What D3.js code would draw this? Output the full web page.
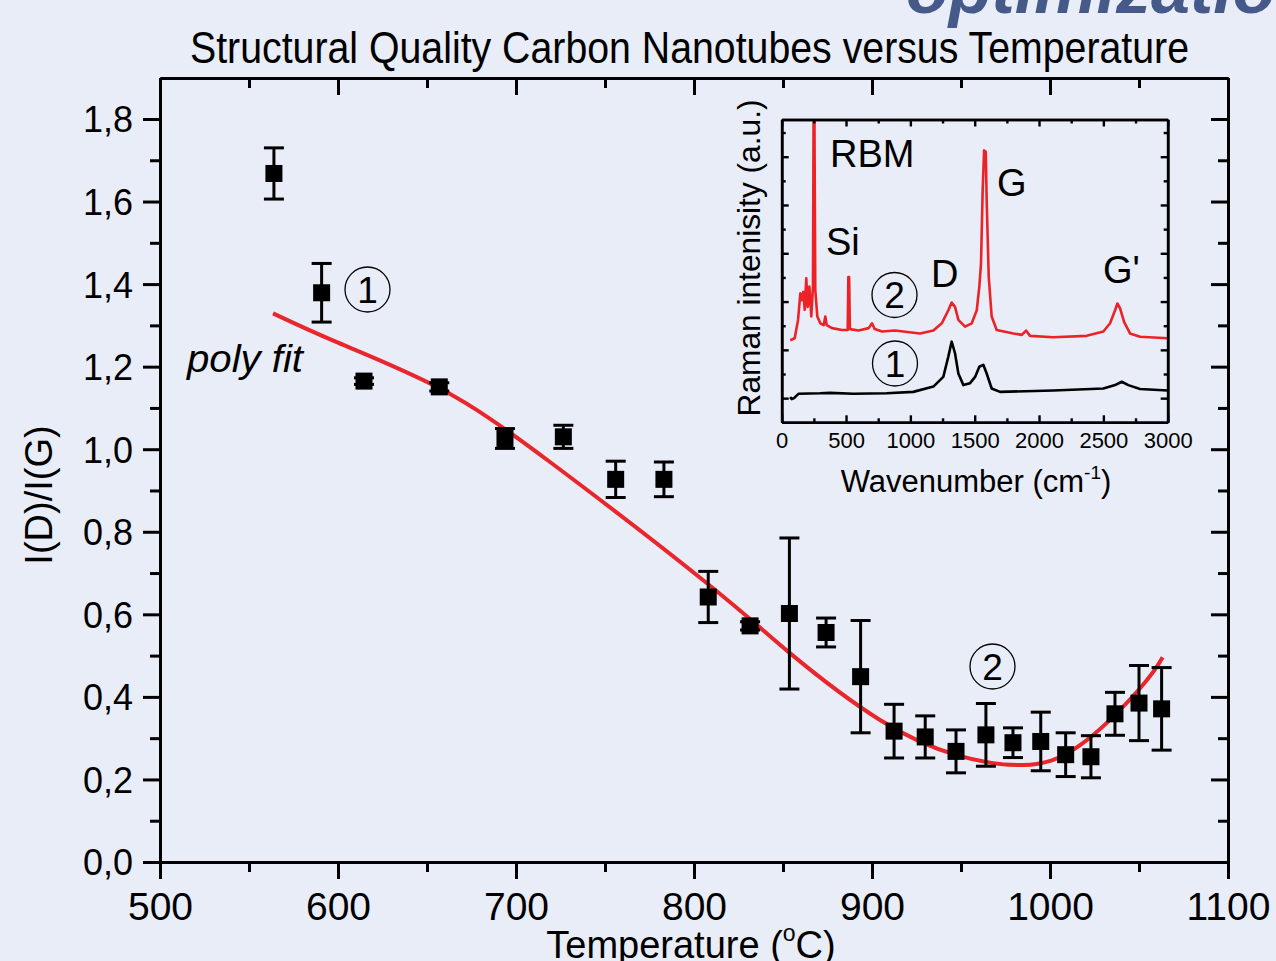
<!DOCTYPE html>
<html>
<head>
<meta charset="utf-8">
<script src="https://cdn.jsdelivr.net/npm/d3@7"></script>
<style>
    html, body { margin: 0; padding: 0; background: #e8edf7; overflow: hidden; }
    svg { display: block; font-family: "Liberation Sans", Arial, sans-serif; }
</style>
</head>
<body>
<div id="chart"></div>
<script>
// main plot: I(D)/I(G) versus growth temperature
const temperature = [564.0, 590.8, 614.6, 656.9, 693.8, 726.6, 756.0, 783.1, 808.0, 831.5, 853.6, 874.2,
                     893.6, 912.4, 929.9, 947.2, 964.0, 979.2, 994.8, 1008.8, 1023.0, 1036.5, 1050.0, 1062.7];
const ratio = [1.668, 1.379, 1.165, 1.151, 1.026, 1.030, 0.927, 0.927, 0.642, 0.572, 0.602, 0.556,
               0.449, 0.317, 0.303, 0.268, 0.308, 0.289, 0.292, 0.260, 0.255, 0.359, 0.385, 0.371];
const ratioErr = [0.062, 0.071, 0.008, 0.010, 0.024, 0.028, 0.044, 0.042, 0.062, 0.010, 0.183, 0.035,
                  0.136, 0.065, 0.051, 0.052, 0.076, 0.036, 0.071, 0.053, 0.051, 0.052, 0.091, 0.100];

// polynomial fit
const fitTemperature = [563.5, 600, 657.3, 719.1, 807.1, 853.9, 904.5, 947.6, 984.8, 1016.9, 1050.6, 1063.3];
const fitRatio = [1.329, 1.258, 1.147, 0.969, 0.676, 0.506, 0.344, 0.259, 0.235, 0.283, 0.421, 0.496];

const xTicks = [500, 600, 700, 800, 900, 1000, 1100];
const xMinorTicks = [550, 650, 750, 850, 950, 1050];
const yTicks = [0, 0.2, 0.4, 0.6, 0.8, 1.0, 1.2, 1.4, 1.6, 1.8];
const yMinorTicks = [0.1, 0.3, 0.5, 0.7, 0.9, 1.1, 1.3, 1.5, 1.7];

// inset: Raman spectra (arbitrary units)
const ramanWave2 = [67, 101, 127, 145, 158, 168, 179, 191, 202, 215, 230, 243, 248, 254, 261, 277, 300, 326,
                    339, 350, 391, 469, 513, 518, 524, 530, 598, 676, 702, 723, 780, 880, 1075, 1179,
                    1244, 1295, 1321, 1347, 1373, 1425, 1477, 1516, 1536, 1549, 1562, 1573, 1586, 1593, 1609,
                    1632, 1671, 1801, 1866, 1899, 1930, 2111, 2370, 2500, 2552, 2591, 2609, 2630, 2661, 2707,
                    2785, 3000];
const ramanIntensity2 = [1.70, 1.74, 2.12, 2.67, 2.53, 2.70, 2.33, 2.98, 2.39, 2.81, 2.19, 2.81, 6.50, 6.50,
                         2.74, 2.19, 2.05, 2.01, 2.19, 2.01, 1.95, 1.91, 1.91, 3.01, 3.01, 1.93, 1.90, 1.95,
                         2.05, 1.93, 1.88, 1.90, 1.84, 1.90, 2.05, 2.32, 2.48, 2.39, 2.12, 1.98, 2.05,
                         2.32, 2.81, 3.29, 4.81, 5.63, 5.60, 4.61, 3.01, 2.19, 1.91, 1.84, 1.81, 1.90, 1.79,
                         1.76, 1.79, 1.88, 2.05, 2.32, 2.46, 2.36, 2.08, 1.84, 1.77, 1.74];
const ramanWave1 = [65, 78, 96, 130, 298, 376, 557, 816, 1023, 1179, 1256, 1295, 1321, 1347, 1373, 1412,
                    1464, 1503, 1536, 1567, 1593, 1632, 1697, 2111, 2500, 2591, 2643, 2694, 2785, 3000];
const ramanIntensity1 = [0.52, 0.48, 0.50, 0.59, 0.60, 0.61, 0.59, 0.60, 0.63, 0.74, 0.94, 1.36, 1.67, 1.43,
                         1.01, 0.77, 0.81, 0.94, 1.15, 1.19, 1.01, 0.70, 0.63, 0.66, 0.70, 0.77, 0.84, 0.77,
                         0.69, 0.66];
const insetXTicks = [0, 500, 1000, 1500, 2000, 2500, 3000];
const insetXMinorTicks = [250, 750, 1250, 1750, 2250, 2750];
const insetYTicks = [0.5, 1.5, 2.5, 3.5, 4.5, 5.5];
const insetYMinorTicks = [1, 2, 3, 4, 5, 6];

(function () {
    const [width, height] = [1276, 961];
    const svg = d3.select('#chart')
                  .append('svg')
                  .attr('width', width)
                  .attr('height', height);

    svg.append('rect')
       .attr('width', width)
       .attr('height', height)
       .attr('fill', '#e8edf7');

    // slide heading peeking in at the top
    svg.append('text')
       .attr('x', 906)
       .attr('y', 13)
       .attr('font-size', 70)
       .attr('font-weight', 'bold')
       .attr('font-style', 'italic')
       .attr('fill', '#465a8a')
       .text('optimization');

    svg.append('text')
       .attr('x', 190)
       .attr('y', 63)
       .attr('font-size', 44)
       .attr('textLength', 999)
       .attr('lengthAdjust', 'spacingAndGlyphs')
       .text('Structural Quality Carbon Nanotubes versus Temperature');

    const x = d3.scaleLinear().domain([500, 1100]).range([160, 1228]);
    const y = d3.scaleLinear().domain([0, 1.9]).range([862, 77.7]);
    const comma = d3.formatLocale({decimal: ',', thousands: '.', grouping: [3], currency: ['', '']}).format('.1f');

    function addAxis(axis, transform, values, size, fmt, fontSize) {
        let g = svg.append('g')
                   .attr('transform', transform)
                   .call(axis.tickValues(values).tickSize(size).tickSizeOuter(0).tickFormat(fmt)
                             .tickPadding(8));
        g.select('.domain').attr('stroke-width', 3).attr('stroke', '#000');
        g.selectAll('.tick line').attr('stroke-width', 3).attr('stroke', '#000');
        g.selectAll('.tick text')
         .attr('font-size', fontSize || 10)
         .attr('font-family', '"Liberation Sans", Arial, sans-serif')
         .attr('fill', '#000');
        return g;
    }

    // frame with ticks: outward on bottom/left, inward on top/right
    addAxis(d3.axisBottom(x), 'translate(0,862)', xTicks, 17, d => d, 39)
        .selectAll('.tick text').attr('dy', null).attr('y', 58);
    addAxis(d3.axisBottom(x), 'translate(0,862)', xMinorTicks, 10, '');
    addAxis(d3.axisTop(x), 'translate(0,78)', xTicks, -17, '');
    addAxis(d3.axisTop(x), 'translate(0,78)', xMinorTicks, -10, '');
    addAxis(d3.axisLeft(y), 'translate(160,0)', yTicks, 17, comma, 36)
        .selectAll('.tick text').attr('x', -27).attr('dy', '0.36em');
    addAxis(d3.axisLeft(y), 'translate(160,0)', yMinorTicks, 10, '');
    addAxis(d3.axisRight(y), 'translate(1228,0)', yTicks, -17, '');
    addAxis(d3.axisRight(y), 'translate(1228,0)', yMinorTicks, -10, '');

    // axis titles
    svg.append('text')
       .attr('transform', 'translate(52,495) rotate(-90)')
       .attr('text-anchor', 'middle')
       .attr('font-size', 38)
       .text('I(D)/I(G)');

    let xt = svg.append('text')
                .attr('x', 691)
                .attr('y', 958)
                .attr('text-anchor', 'middle')
                .attr('font-size', 38);
    xt.append('tspan').text('Temperature (');
    xt.append('tspan').attr('font-size', 23).attr('dy', -17).text('o');
    xt.append('tspan').attr('dy', 17).text('C)');

    // fit curve
    const points = temperature.map((t, i) => ({t: t, v: ratio[i], e: ratioErr[i]}));
    const fit = fitTemperature.map((t, i) => ({t: t, v: fitRatio[i]}));

    svg.append('path')
       .datum(fit)
       .attr('fill', 'none')
       .attr('stroke', '#e8262b')
       .attr('stroke-width', 4)
       .attr('d', d3.line().x(d => x(d.t)).y(d => y(d.v)).curve(d3.curveNatural));

    // error bars and square markers
    let group = svg.selectAll('g.point')
                   .data(points)
                   .enter()
                   .append('g')
                   .attr('class', 'point');
    group.append('line')
         .attr('x1', d => x(d.t)).attr('x2', d => x(d.t))
         .attr('y1', d => y(d.v + d.e)).attr('y2', d => y(d.v - d.e))
         .attr('stroke', '#000').attr('stroke-width', 3);
    for (let sign of [1, -1]) {
        group.append('line')
             .attr('x1', d => x(d.t) - 10).attr('x2', d => x(d.t) + 10)
             .attr('y1', d => y(d.v + sign * d.e)).attr('y2', d => y(d.v + sign * d.e))
             .attr('stroke', '#000').attr('stroke-width', 3);
    }
    group.append('rect')
         .attr('x', d => x(d.t) - 8.5)
         .attr('y', d => y(d.v) - 8.5)
         .attr('width', 17)
         .attr('height', 17)
         .attr('fill', '#000');

    svg.append('text')
       .attr('x', 187)
       .attr('y', 372)
       .attr('font-size', 39)
       .attr('font-style', 'italic')
       .attr('textLength', 116)
       .attr('lengthAdjust', 'spacingAndGlyphs')
       .text('poly fit');

    function circled(cx, cy, label) {
        svg.append('circle')
           .attr('cx', cx).attr('cy', cy).attr('r', 22.5)
           .attr('fill', 'none').attr('stroke', '#000').attr('stroke-width', 1.3);
        svg.append('text')
           .attr('x', cx).attr('y', cy + 13)
           .attr('text-anchor', 'middle')
           .attr('font-size', 37)
           .text(label);
    }
    circled(367.5, 289.5, '1');
    circled(992.5, 666.5, '2');

    // inset
    const ix = d3.scaleLinear().domain([0, 3000]).range([781.7, 1167.7]);
    const iy = d3.scaleLinear().domain([0, 6.27]).range([422.3, 119.5]);

    svg.append('clipPath')
       .attr('id', 'insetClip')
       .append('rect')
       .attr('x', 781.7).attr('y', 119.5)
       .attr('width', 386).attr('height', 302.8);

    const spectra = [
        {wave: ramanWave2, value: ramanIntensity2, colour: '#ec2227'},
        {wave: ramanWave1, value: ramanIntensity1, colour: '#000'},
    ];
    for (let s of spectra) {
        svg.append('path')
           .datum(s.wave.map((w, i) => [w, s.value[i]]))
           .attr('clip-path', 'url(#insetClip)')
           .attr('fill', 'none')
           .attr('stroke', s.colour)
           .attr('stroke-width', 2.6)
           .attr('stroke-linejoin', 'round')
           .attr('d', d3.line().x(d => ix(d[0])).y(d => iy(d[1])));
    }

    function addInsetAxis(axis, transform, values, size, fmt) {
        let g = svg.append('g')
                   .attr('transform', transform)
                   .call(axis.tickValues(values).tickSize(size).tickSizeOuter(0).tickFormat(fmt)
                             .tickPadding(4));
        g.select('.domain').attr('stroke-width', 2.6).attr('stroke', '#000');
        g.selectAll('.tick line').attr('stroke-width', 2.4).attr('stroke', '#000');
        g.selectAll('.tick text')
         .attr('font-size', 22)
         .attr('font-family', '"Liberation Sans", Arial, sans-serif')
         .attr('fill', '#000');
        return g;
    }
    addInsetAxis(d3.axisBottom(ix), 'translate(0,422.3)', insetXTicks, -7, d => d)
        .selectAll('.tick text').attr('dy', null).attr('y', 26);
    addInsetAxis(d3.axisBottom(ix), 'translate(0,422.3)', insetXMinorTicks, -4, '');
    addInsetAxis(d3.axisTop(ix), 'translate(0,119.5)', insetXTicks, -7, '');
    addInsetAxis(d3.axisTop(ix), 'translate(0,119.5)', insetXMinorTicks, -4, '');
    addInsetAxis(d3.axisLeft(iy), 'translate(781.7,0)', insetYTicks, -7, '');
    addInsetAxis(d3.axisLeft(iy), 'translate(781.7,0)', insetYMinorTicks, -4, '');
    addInsetAxis(d3.axisRight(iy), 'translate(1167.7,0)', insetYTicks, -7, '');
    addInsetAxis(d3.axisRight(iy), 'translate(1167.7,0)', insetYMinorTicks, -4, '');

    svg.append('text')
       .attr('transform', 'translate(760,258) rotate(-90)')
       .attr('text-anchor', 'middle')
       .attr('font-size', 31)
       .attr('textLength', 317)
       .attr('lengthAdjust', 'spacingAndGlyphs')
       .text('Raman intenisity (a.u.)');

    let wt = svg.append('text')
                .attr('x', 976)
                .attr('y', 492)
                .attr('text-anchor', 'middle')
                .attr('font-size', 31);
    wt.append('tspan').text('Wavenumber (cm');
    wt.append('tspan').attr('font-size', 19).attr('dy', -13).text('-1');
    wt.append('tspan').attr('dy', 13).text(')');

    const peakLabels = [
        {text: 'RBM', x: 830, y: 167},
        {text: 'Si', x: 826, y: 255},
        {text: 'D', x: 931, y: 287},
        {text: 'G', x: 997, y: 196},
        {text: "G'", x: 1103, y: 283},
    ];
    svg.selectAll('text.peak')
       .data(peakLabels)
       .enter()
       .append('text')
       .attr('class', 'peak')
       .attr('x', d => d.x)
       .attr('y', d => d.y)
       .attr('font-size', 38)
       .text(d => d.text);

    circled(894.5, 295, '2');
    circled(895, 363.5, '1');
})();
</script>
</body>
</html>
